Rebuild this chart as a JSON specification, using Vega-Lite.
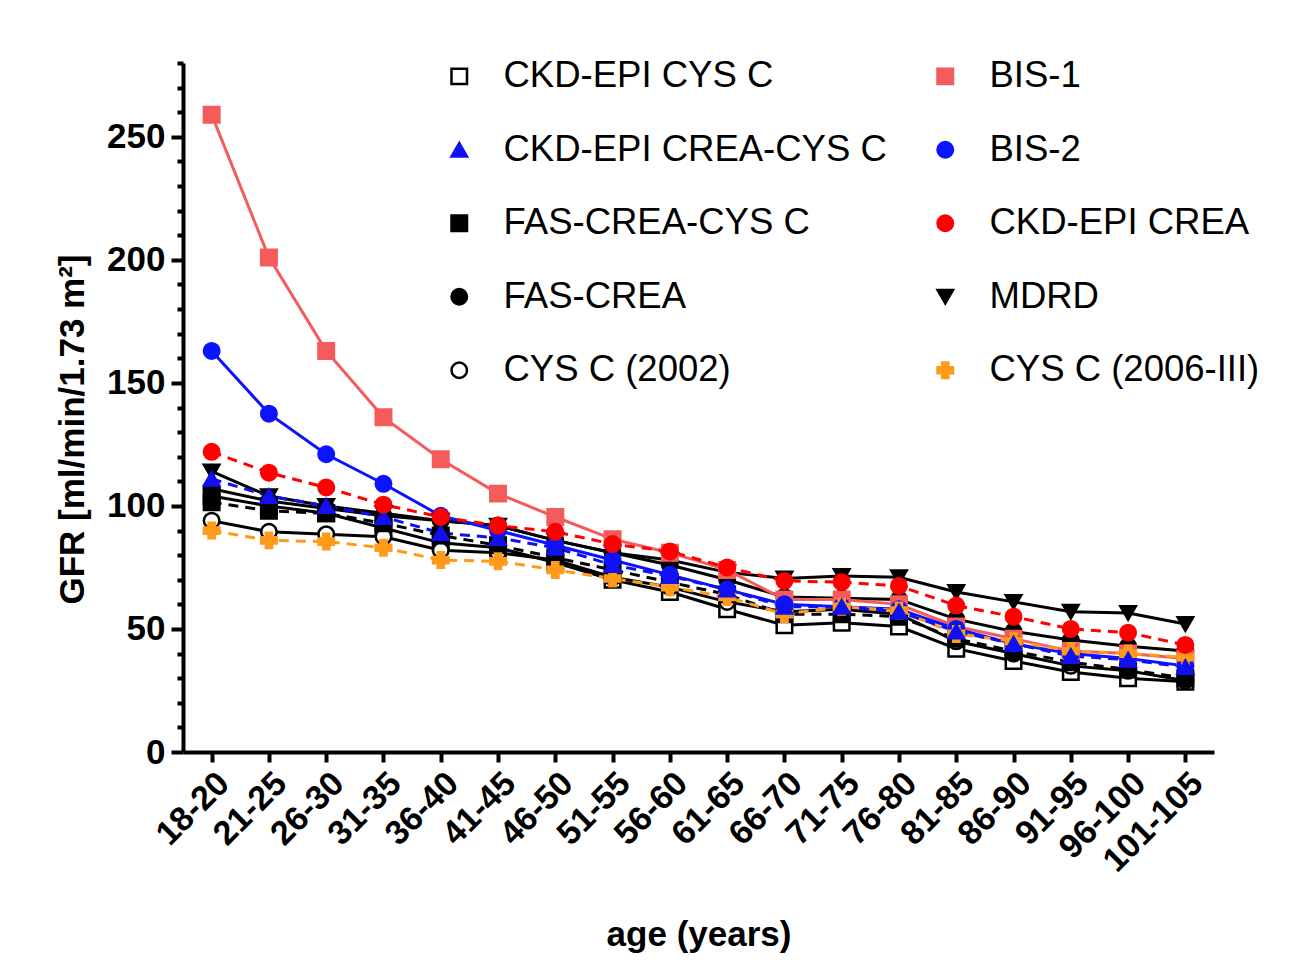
{
"$schema": "https://vega.github.io/schema/vega-lite/v6.json",
"width": 1031, "height": 689,
"autosize": "none",
"padding": {"left": 183, "top": 63, "right": 98, "bottom": 218},
"background": "white",
"config": {"view": {"stroke": null}, "font": "Liberation Sans"},
"data": {"values": [
{"age":"18-20","series":"CKD-EPI CYS C","gfr":104},{"age":"21-25","series":"CKD-EPI CYS C","gfr":100},{"age":"26-30","series":"CKD-EPI CYS C","gfr":97},{"age":"31-35","series":"CKD-EPI CYS C","gfr":91},{"age":"36-40","series":"CKD-EPI CYS C","gfr":85},{"age":"41-45","series":"CKD-EPI CYS C","gfr":83},{"age":"46-50","series":"CKD-EPI CYS C","gfr":77},{"age":"51-55","series":"CKD-EPI CYS C","gfr":70},{"age":"56-60","series":"CKD-EPI CYS C","gfr":65},{"age":"61-65","series":"CKD-EPI CYS C","gfr":58},{"age":"66-70","series":"CKD-EPI CYS C","gfr":51.5},{"age":"71-75","series":"CKD-EPI CYS C","gfr":52.5},{"age":"76-80","series":"CKD-EPI CYS C","gfr":51},{"age":"81-85","series":"CKD-EPI CYS C","gfr":42},{"age":"86-90","series":"CKD-EPI CYS C","gfr":37},{"age":"91-95","series":"CKD-EPI CYS C","gfr":32.5},{"age":"96-100","series":"CKD-EPI CYS C","gfr":30},{"age":"101-105","series":"CKD-EPI CYS C","gfr":28.5},
{"age":"18-20","series":"CYS C (2002)","gfr":94},{"age":"21-25","series":"CYS C (2002)","gfr":89.5},{"age":"26-30","series":"CYS C (2002)","gfr":88.5},{"age":"31-35","series":"CYS C (2002)","gfr":87.5},{"age":"36-40","series":"CYS C (2002)","gfr":82},{"age":"41-45","series":"CYS C (2002)","gfr":81},{"age":"46-50","series":"CYS C (2002)","gfr":78},{"age":"51-55","series":"CYS C (2002)","gfr":71},{"age":"56-60","series":"CYS C (2002)","gfr":67},{"age":"61-65","series":"CYS C (2002)","gfr":61},{"age":"66-70","series":"CYS C (2002)","gfr":57},{"age":"71-75","series":"CYS C (2002)","gfr":58},{"age":"76-80","series":"CYS C (2002)","gfr":56},{"age":"81-85","series":"CYS C (2002)","gfr":45},{"age":"86-90","series":"CYS C (2002)","gfr":40},{"age":"91-95","series":"CYS C (2002)","gfr":35},{"age":"96-100","series":"CYS C (2002)","gfr":33},{"age":"101-105","series":"CYS C (2002)","gfr":29},
{"age":"18-20","series":"FAS-CREA-CYS C","gfr":101.5},{"age":"21-25","series":"FAS-CREA-CYS C","gfr":98},{"age":"26-30","series":"FAS-CREA-CYS C","gfr":97},{"age":"31-35","series":"FAS-CREA-CYS C","gfr":93},{"age":"36-40","series":"FAS-CREA-CYS C","gfr":88},{"age":"41-45","series":"FAS-CREA-CYS C","gfr":84},{"age":"46-50","series":"FAS-CREA-CYS C","gfr":79},{"age":"51-55","series":"FAS-CREA-CYS C","gfr":74},{"age":"56-60","series":"FAS-CREA-CYS C","gfr":69},{"age":"61-65","series":"FAS-CREA-CYS C","gfr":64},{"age":"66-70","series":"FAS-CREA-CYS C","gfr":56},{"age":"71-75","series":"FAS-CREA-CYS C","gfr":56},{"age":"76-80","series":"FAS-CREA-CYS C","gfr":55},{"age":"81-85","series":"FAS-CREA-CYS C","gfr":46},{"age":"86-90","series":"FAS-CREA-CYS C","gfr":41},{"age":"91-95","series":"FAS-CREA-CYS C","gfr":36.5},{"age":"96-100","series":"FAS-CREA-CYS C","gfr":33.5},{"age":"101-105","series":"FAS-CREA-CYS C","gfr":30},
{"age":"18-20","series":"FAS-CREA","gfr":107},{"age":"21-25","series":"FAS-CREA","gfr":102},{"age":"26-30","series":"FAS-CREA","gfr":99},{"age":"31-35","series":"FAS-CREA","gfr":96},{"age":"36-40","series":"FAS-CREA","gfr":94},{"age":"41-45","series":"FAS-CREA","gfr":92},{"age":"46-50","series":"FAS-CREA","gfr":86},{"age":"51-55","series":"FAS-CREA","gfr":81},{"age":"56-60","series":"FAS-CREA","gfr":76},{"age":"61-65","series":"FAS-CREA","gfr":70},{"age":"66-70","series":"FAS-CREA","gfr":63},{"age":"71-75","series":"FAS-CREA","gfr":62.5},{"age":"76-80","series":"FAS-CREA","gfr":62},{"age":"81-85","series":"FAS-CREA","gfr":54},{"age":"86-90","series":"FAS-CREA","gfr":49},{"age":"91-95","series":"FAS-CREA","gfr":45.5},{"age":"96-100","series":"FAS-CREA","gfr":43},{"age":"101-105","series":"FAS-CREA","gfr":41},
{"age":"18-20","series":"MDRD","gfr":114},{"age":"21-25","series":"MDRD","gfr":104},{"age":"26-30","series":"MDRD","gfr":100},{"age":"31-35","series":"MDRD","gfr":97},{"age":"36-40","series":"MDRD","gfr":94},{"age":"41-45","series":"MDRD","gfr":92},{"age":"46-50","series":"MDRD","gfr":86},{"age":"51-55","series":"MDRD","gfr":81},{"age":"56-60","series":"MDRD","gfr":78},{"age":"61-65","series":"MDRD","gfr":73},{"age":"66-70","series":"MDRD","gfr":70.5},{"age":"71-75","series":"MDRD","gfr":71.5},{"age":"76-80","series":"MDRD","gfr":71},{"age":"81-85","series":"MDRD","gfr":65},{"age":"86-90","series":"MDRD","gfr":61},{"age":"91-95","series":"MDRD","gfr":57},{"age":"96-100","series":"MDRD","gfr":56.5},{"age":"101-105","series":"MDRD","gfr":52},
{"age":"18-20","series":"BIS-1","gfr":259},{"age":"21-25","series":"BIS-1","gfr":201},{"age":"26-30","series":"BIS-1","gfr":163},{"age":"31-35","series":"BIS-1","gfr":136},{"age":"36-40","series":"BIS-1","gfr":119},{"age":"41-45","series":"BIS-1","gfr":105},{"age":"46-50","series":"BIS-1","gfr":95.5},{"age":"51-55","series":"BIS-1","gfr":86.5},{"age":"56-60","series":"BIS-1","gfr":81},{"age":"61-65","series":"BIS-1","gfr":74},{"age":"66-70","series":"BIS-1","gfr":62},{"age":"71-75","series":"BIS-1","gfr":62},{"age":"76-80","series":"BIS-1","gfr":60},{"age":"81-85","series":"BIS-1","gfr":51},{"age":"86-90","series":"BIS-1","gfr":46},{"age":"91-95","series":"BIS-1","gfr":41},{"age":"96-100","series":"BIS-1","gfr":40},{"age":"101-105","series":"BIS-1","gfr":38},
{"age":"18-20","series":"BIS-2","gfr":163},{"age":"21-25","series":"BIS-2","gfr":137.5},{"age":"26-30","series":"BIS-2","gfr":121},{"age":"31-35","series":"BIS-2","gfr":109},{"age":"36-40","series":"BIS-2","gfr":96},{"age":"41-45","series":"BIS-2","gfr":90},{"age":"46-50","series":"BIS-2","gfr":84},{"age":"51-55","series":"BIS-2","gfr":78},{"age":"56-60","series":"BIS-2","gfr":72},{"age":"61-65","series":"BIS-2","gfr":66},{"age":"66-70","series":"BIS-2","gfr":60},{"age":"71-75","series":"BIS-2","gfr":59},{"age":"76-80","series":"BIS-2","gfr":58},{"age":"81-85","series":"BIS-2","gfr":50},{"age":"86-90","series":"BIS-2","gfr":44},{"age":"91-95","series":"BIS-2","gfr":40},{"age":"96-100","series":"BIS-2","gfr":38},{"age":"101-105","series":"BIS-2","gfr":35},
{"age":"18-20","series":"CYS C (2006-III)","gfr":90},{"age":"21-25","series":"CYS C (2006-III)","gfr":86},{"age":"26-30","series":"CYS C (2006-III)","gfr":85.5},{"age":"31-35","series":"CYS C (2006-III)","gfr":83},{"age":"36-40","series":"CYS C (2006-III)","gfr":78},{"age":"41-45","series":"CYS C (2006-III)","gfr":77.5},{"age":"46-50","series":"CYS C (2006-III)","gfr":74},{"age":"51-55","series":"CYS C (2006-III)","gfr":70.5},{"age":"56-60","series":"CYS C (2006-III)","gfr":67},{"age":"61-65","series":"CYS C (2006-III)","gfr":63},{"age":"66-70","series":"CYS C (2006-III)","gfr":56},{"age":"71-75","series":"CYS C (2006-III)","gfr":59},{"age":"76-80","series":"CYS C (2006-III)","gfr":57.5},{"age":"81-85","series":"CYS C (2006-III)","gfr":48},{"age":"86-90","series":"CYS C (2006-III)","gfr":45},{"age":"91-95","series":"CYS C (2006-III)","gfr":41},{"age":"96-100","series":"CYS C (2006-III)","gfr":40},{"age":"101-105","series":"CYS C (2006-III)","gfr":38.5},
{"age":"18-20","series":"CKD-EPI CREA-CYS C","gfr":111},{"age":"21-25","series":"CKD-EPI CREA-CYS C","gfr":104},{"age":"26-30","series":"CKD-EPI CREA-CYS C","gfr":100},{"age":"31-35","series":"CKD-EPI CREA-CYS C","gfr":95.5},{"age":"36-40","series":"CKD-EPI CREA-CYS C","gfr":89},{"age":"41-45","series":"CKD-EPI CREA-CYS C","gfr":87},{"age":"46-50","series":"CKD-EPI CREA-CYS C","gfr":83},{"age":"51-55","series":"CKD-EPI CREA-CYS C","gfr":76},{"age":"56-60","series":"CKD-EPI CREA-CYS C","gfr":71.5},{"age":"61-65","series":"CKD-EPI CREA-CYS C","gfr":66},{"age":"66-70","series":"CKD-EPI CREA-CYS C","gfr":59},{"age":"71-75","series":"CKD-EPI CREA-CYS C","gfr":59},{"age":"76-80","series":"CKD-EPI CREA-CYS C","gfr":57},{"age":"81-85","series":"CKD-EPI CREA-CYS C","gfr":49},{"age":"86-90","series":"CKD-EPI CREA-CYS C","gfr":44},{"age":"91-95","series":"CKD-EPI CREA-CYS C","gfr":39},{"age":"96-100","series":"CKD-EPI CREA-CYS C","gfr":37.5},{"age":"101-105","series":"CKD-EPI CREA-CYS C","gfr":34.5},
{"age":"18-20","series":"CKD-EPI CREA","gfr":122},{"age":"21-25","series":"CKD-EPI CREA","gfr":113.5},{"age":"26-30","series":"CKD-EPI CREA","gfr":107.5},{"age":"31-35","series":"CKD-EPI CREA","gfr":100.5},{"age":"36-40","series":"CKD-EPI CREA","gfr":95.5},{"age":"41-45","series":"CKD-EPI CREA","gfr":92},{"age":"46-50","series":"CKD-EPI CREA","gfr":89.5},{"age":"51-55","series":"CKD-EPI CREA","gfr":84.5},{"age":"56-60","series":"CKD-EPI CREA","gfr":81.5},{"age":"61-65","series":"CKD-EPI CREA","gfr":75},{"age":"66-70","series":"CKD-EPI CREA","gfr":69.5},{"age":"71-75","series":"CKD-EPI CREA","gfr":69},{"age":"76-80","series":"CKD-EPI CREA","gfr":67.5},{"age":"81-85","series":"CKD-EPI CREA","gfr":59.5},{"age":"86-90","series":"CKD-EPI CREA","gfr":55},{"age":"91-95","series":"CKD-EPI CREA","gfr":50},{"age":"96-100","series":"CKD-EPI CREA","gfr":48.5},{"age":"101-105","series":"CKD-EPI CREA","gfr":43.5}
]},
"encoding": {
  "x": {"field": "age", "type": "ordinal",
    "scale": {"type": "point", "padding": 0.5, "domain": ["18-20","21-25","26-30","31-35","36-40","41-45","46-50","51-55","56-60","61-65","66-70","71-75","76-80","81-85","86-90","91-95","96-100","101-105"]},
    "axis": {"title": "age (years)", "titleFontSize": 35, "titleFontWeight": "bold", "titleColor": "black", "titleY": 193, "titleBaseline": "alphabetic",
      "labelAngle": -45, "labelFontSize": 34, "labelFontWeight": "bold", "labelColor": "black", "labelPadding": 4,
      "tickSize": 10, "tickWidth": 4, "tickColor": "black", "domainWidth": 4, "domainColor": "black", "grid": false}},
  "y": {"field": "gfr", "type": "quantitative",
    "scale": {"domain": [0, 280], "nice": false, "zero": true},
    "axis": {"title": "GFR [ml/min/1.73 m²]", "titleFontSize": 35, "titleFontWeight": "bold", "titleColor": "black", "titleX": -100, "titleY": 366, "titleBaseline": "alphabetic",
      "values": [0,10,20,30,40,50,60,70,80,90,100,110,120,130,140,150,160,170,180,190,200,210,220,230,240,250,260,270,280],
      "labelExpr": "datum.value % 50 === 0 ? datum.label : ''",
      "tickSize": {"condition": {"test": "datum.value % 50 === 0", "value": 12}, "value": 6},
      "labelFontSize": 35, "labelFontWeight": "bold", "labelColor": "black", "labelPadding": 6,
      "tickWidth": 4, "tickColor": "black", "domainWidth": 4, "domainColor": "black", "grid": false}},
  "stroke": {"field": "series", "type": "nominal",
       "scale": {"domain": ["CKD-EPI CYS C","CKD-EPI CREA-CYS C","FAS-CREA-CYS C","FAS-CREA","CYS C (2002)","BIS-1","BIS-2","CKD-EPI CREA","MDRD","CYS C (2006-III)"],
                 "range": ["#000000","#1010F0","#000000","#000000","#000000","#F45B5B","#0A14FF","#FF0000","#000000","#FF9A1A"]},
       "legend": {"title": null, "orient": "none", "legendX": 258, "legendY": -5, "columns": 2,
         "labelFontSize": 36.5, "labelFont": "Liberation Sans", "labelColor": "black", "labelLimit": 600,
         "symbolSize": 240, "symbolStrokeWidth": 2.5, "rowPadding": 36.5, "columnPadding": 40, "labelOffset": 26}}
},
"layer": [
  {"transform": [{"filter": {"field": "series", "oneOf": ["CKD-EPI CYS C","BIS-1","BIS-2","FAS-CREA","MDRD","CYS C (2002)"]}}],
   "mark": {"type": "line", "strokeWidth": 3}},
  {"transform": [{"filter": {"field": "series", "oneOf": ["CKD-EPI CREA-CYS C","FAS-CREA-CYS C","CKD-EPI CREA","CYS C (2006-III)"]}}],
   "mark": {"type": "line", "strokeWidth": 3, "strokeDash": [10, 7]}},
  {"mark": {"type": "point", "size": 240, "strokeWidth": 2.5, "opacity": 1, "fillOpacity": 1, "strokeOpacity": 1},
   "encoding": {
     "fill": {"field": "series", "type": "nominal",
       "scale": {"domain": ["CKD-EPI CYS C","CKD-EPI CREA-CYS C","FAS-CREA-CYS C","FAS-CREA","CYS C (2002)","BIS-1","BIS-2","CKD-EPI CREA","MDRD","CYS C (2006-III)"],
                 "range": ["#FFFFFF","#1010F0","#000000","#000000","#FFFFFF","#F45B5B","#0A14FF","#FF0000","#000000","#FF9A1A"]}},
     "shape": {"field": "series", "type": "nominal",
       "scale": {"domain": ["CKD-EPI CYS C","CKD-EPI CREA-CYS C","FAS-CREA-CYS C","FAS-CREA","CYS C (2002)","BIS-1","BIS-2","CKD-EPI CREA","MDRD","CYS C (2006-III)"],
                 "range": ["square","triangle-up","square","circle","circle","square","circle","circle","triangle-down","cross"]}}
   }}
]
}
